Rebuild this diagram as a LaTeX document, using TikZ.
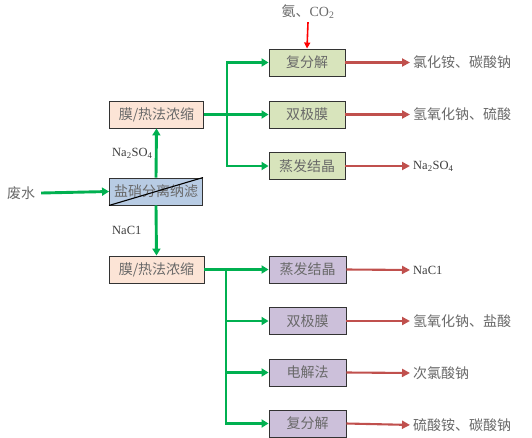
\documentclass[tikz,border=0pt]{standalone}
\usepackage{fontspec}
\setmainfont{Liberation Serif}
\newfontfamily\cjk{Noto Sans CJK SC}
\usetikzlibrary{arrows.meta}
\definecolor{gline}{RGB}{0,176,80}
\definecolor{rline}{RGB}{192,80,77}
\definecolor{peach}{RGB}{252,228,214}
\definecolor{olive}{RGB}{216,228,188}
\definecolor{lilac}{RGB}{204,192,218}
\definecolor{lblue}{RGB}{184,204,228}
\definecolor{txt}{RGB}{105,105,105}
\definecolor{ltxt}{RGB}{60,60,60}
\tikzset{
  box/.style={draw=black!80, line width=0.9pt, minimum height=27, inner sep=0pt, font=\cjk\fontsize{14}{16}\selectfont, text=txt},
  gar/.style={draw=gline, line width=2.9pt, -{Triangle[length=7pt,width=8pt]}},
  gln/.style={draw=gline, line width=2.9pt},
  rar/.style={draw=rline, line width=2.1pt, shorten >=3pt, -{Triangle[length=8pt,width=8pt]}},
  ctext/.style={font=\cjk\fontsize{14}{16}\selectfont, text=txt, inner sep=0pt},
  ltext/.style={font=\fontsize{12.5}{14}\selectfont, text=ltxt, inner sep=0pt},
}
\begin{document}
\begin{tikzpicture}[x=1pt,y=-1pt]
\useasboundingbox (0,0) rectangle (532,437);
% left part
\node[ctext] (fs) at (21,193) {废水};
\node[box, fill=lblue, minimum width=93] (nf) at (156,191.5) {盐硝分离纳滤};
\draw[black, line width=1.1pt] (nf.south west) -- (nf.north east);
\node[box, fill=peach, minimum width=94] (c1) at (156.5,114.5) {膜/热法浓缩};
\node[box, fill=peach, minimum width=95] (c2) at (156.5,269.5) {膜/热法浓缩};
\node[ltext, anchor=west] (lna) at (112,153) {Na\textsubscript{2}SO\textsubscript{4}};
\node[ltext, anchor=west] (lnc) at (112,230) {NaC1};
\draw[gar] (fs.east) ++(6,0) coordinate (fse) (fse) -- (nf.west);
\draw[gar] (nf.north) -- (c1.south);
\draw[gar] (nf.south) -- (c2.north);
% upper right
\node[box, fill=olive, minimum width=76] (u1) at (307,62.5) {复分解};
\node[box, fill=olive, minimum width=76] (u2) at (307,114.5) {双极膜};
\node[box, fill=olive, minimum width=76] (u3) at (307,166) {蒸发结晶};
\coordinate (j1) at (227,114.5);
\draw[gln] (c1.east) -- (j1);
\draw[gar] (j1) |- (u1.west);
\draw[gar] (j1) -- (u2.west);
\draw[gar] (j1) |- (u3.west);
\node[ctext] (nh) at (308,12) {氨、{\rmfamily CO\textsubscript{2}}};
\draw[draw=red, line width=1.6pt, -{Triangle[length=6pt,width=6pt]}] (nh.south) ++(0,3) coordinate (nhs) (nhs) -- (u1.north);
\node[ctext, anchor=west] (p1) at (413,62.5) {氯化铵、碳酸钠};
\node[ctext, anchor=west] (p2) at (413,114.5) {氢氧化钠、硫酸};
\node[ltext, anchor=west] (p3) at (413,166) {Na\textsubscript{2}SO\textsubscript{4}};
\draw[rar] (u1.east) -- (p1.west);
\draw[rar] (u2.east) -- (p2.west);
\draw[rar] (u3.east) -- (p3.west);
% lower right
\node[box, fill=lilac, minimum width=77] (d1) at (307.5,269.5) {蒸发结晶};
\node[box, fill=lilac, minimum width=77] (d2) at (307.5,321) {双极膜};
\node[box, fill=lilac, minimum width=77] (d3) at (307.5,372.5) {电解法};
\node[box, fill=lilac, minimum width=77] (d4) at (307.5,423.5) {复分解};
\coordinate (j2) at (226,269.5);
\draw[gar] (c2.east) -- (d1.west);
\draw[gar] (j2) |- (d2.west);
\draw[gar] (j2) |- (d3.west);
\draw[gar] (j2) |- (d4.west);
\node[ltext, anchor=west] (q1) at (413,270) {NaC1};
\node[ctext, anchor=west] (q2) at (413,321) {氢氧化钠、盐酸};
\node[ctext, anchor=west] (q3) at (413,373) {次氯酸钠};
\node[ctext, anchor=west] (q4) at (413,425) {硫酸铵、碳酸钠};
\draw[rar] (d1.east) -- (q1.west);
\draw[rar] (d2.east) -- (q2.west);
\draw[rar] (d3.east) -- (q3.west);
\draw[rar] (d4.east) -- (q4.west);
\end{tikzpicture}
\end{document}
